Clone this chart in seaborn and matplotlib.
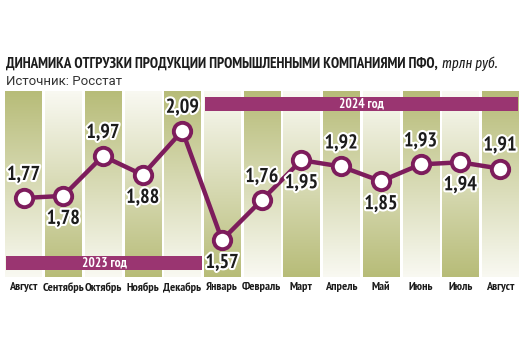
import matplotlib
matplotlib.use("Agg")
import matplotlib.pyplot as plt
import matplotlib.patheffects as pe
from matplotlib.patches import Rectangle
from matplotlib.colors import LinearSegmentedColormap
from matplotlib import font_manager
import numpy as np
import pandas as pd
import seaborn as sns

# Monthly shipments, trillion rubles
months = ["Август", "Сентябрь", "Октябрь", "Ноябрь", "Декабрь", "Январь", "Февраль",
          "Март", "Апрель", "Май", "Июнь", "Июль", "Август"]
values = [1.77, 1.78, 1.97, 1.88, 2.09, 1.57, 1.76, 1.95, 1.92, 1.85, 1.93, 1.94, 1.91]
label_above = [True, False, True, False, True, False, True, False, True, False, True, False, True]
years = ["2023 год", "2024 год"]

title_main = "ДИНАМИКА ОТГРУЗКИ ПРОДУКЦИИ ПРОМЫШЛЕННЫМИ КОМПАНИЯМИ ПФО,"
title_unit = "трлн руб."
source = "Источник: Росстат"

sns.set_theme(style="white")
fonts = font_manager.fontManager.ttflist
names = {f.name for f in fonts}
NARROW = next((n for n in ["PT Sans Narrow", "Fira Sans Extra Condensed", "Roboto Condensed",
                           "Fira Sans Condensed"] if n in names), "DejaVu Sans")
ITALIC = next((n for n in ["Fira Sans Extra Condensed", "Fira Sans Condensed",
                           "Sofia Sans Extra Condensed"]
               if any(f.name == n and f.style == "italic" for f in fonts)), NARROW)
REGULAR = "Roboto" if "Roboto" in names else "DejaVu Sans"
plt.rcParams["font.family"] = [NARROW, "DejaVu Sans"]

OLIVE = "#b7bc78"
LIGHT = "#f9f9f2"
PURPLE_LINE = "#7d1c5c"
PURPLE_BAR = "#9a3571"
INK = "#1c1c1c"

df = pd.DataFrame({"idx": np.arange(len(months)), "value": values})

fig = plt.figure(figsize=(5.25, 3.5), dpi=100)
ax = fig.add_axes([3.65 / 525, 73 / 350, 516.2 / 525, 186 / 350])
ylo, yhi = 1.3938, 2.2795
ax.set_xlim(-0.5, len(months) - 0.5)
ax.set_ylim(ylo, yhi)

# alternating gradient columns
cmap = LinearSegmentedColormap.from_list("olive", [LIGHT, OLIVE])
grad = np.linspace(0, 1, 256).reshape(-1, 1)
for i in range(len(months)):
    g = grad if i % 2 == 0 else grad[::-1]
    ax.imshow(g, cmap=cmap, aspect="auto", origin="lower",
              extent=(i - 0.455, i + 0.455, ylo, yhi), zorder=0, vmin=0, vmax=1)

# year banners
ax.add_patch(Rectangle((-0.44, 1.4271), 4.936, 0.0667, facecolor=PURPLE_BAR,
                       edgecolor="none", zorder=1, clip_on=False))
ax.text(2.03, 1.4604, years[0], color="white", fontsize=9.5, fontweight="bold",
        ha="center", va="center", zorder=2)
ax.add_patch(Rectangle((4.572, 2.184), 7.884, 0.067, facecolor=PURPLE_BAR,
                       edgecolor="none", zorder=1, clip_on=False))
ax.text(8.51, 2.2175, years[1], color="white", fontsize=9.5, fontweight="bold",
        ha="center", va="center", zorder=2)

sns.lineplot(data=df, x="idx", y="value", ax=ax, color=PURPLE_LINE, linewidth=3.2,
             marker="o", markersize=12.5, markerfacecolor="white",
             markeredgecolor=PURPLE_LINE, markeredgewidth=2.8, zorder=3)

for i, (v, up) in enumerate(zip(values, label_above)):
    ax.annotate(f"{v:.2f}".replace(".", ","), (i, v), xytext=(0, 23 if up else -23),
                textcoords="offset pixels", ha="center", va="center",
                fontsize=14.5, fontweight="bold", color=INK, zorder=4,
                path_effects=[pe.withStroke(linewidth=3, foreground="white")])

ax.set_xticks(range(len(months)))
ax.set_xticklabels(months, fontsize=8.8, fontweight="bold", color=INK)
ax.tick_params(axis="x", length=0, pad=3.5)
ax.set_yticks([])
ax.set_xlabel("")
ax.set_ylabel("")
for s in ax.spines.values():
    s.set_visible(False)

# title: bold part fitted to its width, unit in italics after it
t1 = fig.text(6 / 525, 1 - 68 / 350, title_main, fontsize=12, fontweight="bold",
              color=INK, ha="left", va="baseline")
fig.canvas.draw()
w = t1.get_window_extent().width
t1.set_fontsize(12 * 433 / w)
fig.canvas.draw()
bb = t1.get_window_extent()
fig.text((bb.x1 + 4) / 525, 1 - 68 / 350, title_unit, fontsize=t1.get_fontsize() * 0.95,
         fontstyle="italic", family=[ITALIC, "DejaVu Sans"], color=INK,
         ha="left", va="baseline")
fig.text(6 / 525, 1 - 85 / 350, source, fontsize=9.5, color="#333333",
         family=[REGULAR, "DejaVu Sans"], ha="left", va="baseline")

fig.savefig("out.png", dpi=100)
